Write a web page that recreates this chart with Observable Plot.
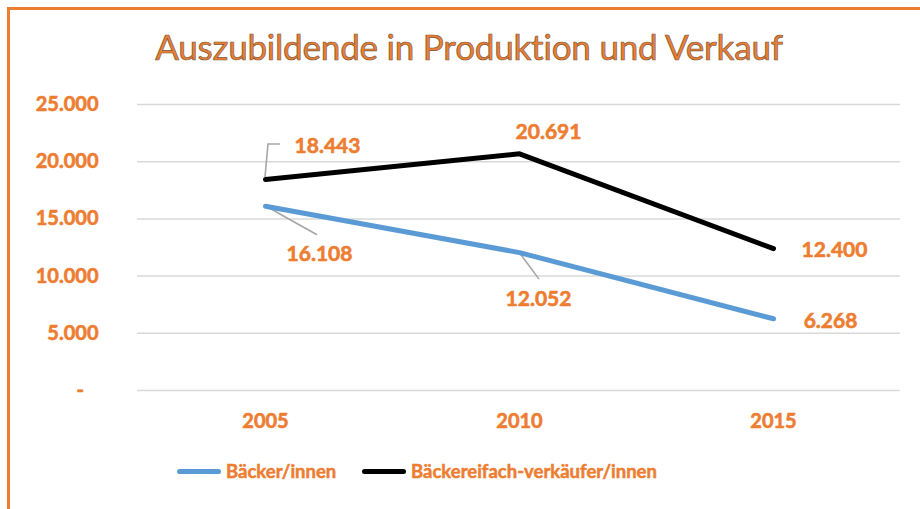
<!DOCTYPE html>
<html><head><meta charset="utf-8">
<script src="https://cdn.jsdelivr.net/npm/d3@7"></script>
<script src="https://cdn.jsdelivr.net/npm/@observablehq/plot@0.6"></script>
<style>
html,body{margin:0;padding:0;background:#fff;}
#wrap{position:relative;width:920px;height:509px;overflow:hidden;font-family:Lato,"Open Sans",sans-serif;}
#frame{position:absolute;left:7px;top:7px;width:940px;height:540px;border-top:3px solid #ED7D31;border-left:3px solid #ED7D31;}
#title{position:absolute;left:0;top:25px;width:938px;text-align:center;font-size:35px;color:#ED7D31;-webkit-text-stroke:0.7px #7a5a40;letter-spacing:-0.2px;}
#chart{position:absolute;left:0;top:80px;}
.leg{position:absolute;top:460px;display:flex;align-items:center;font-size:18.5px;font-weight:bold;color:#ED7D31;-webkit-text-stroke:0.5px #ED7D31;white-space:nowrap;}
.sw{width:44px;height:5px;border-radius:3px;margin-right:5px;flex-shrink:0;}
svg text{stroke:#ED7D31;stroke-width:0.6px;}
</style></head>
<body><div id="wrap"><div id="frame"></div><div id="title">Auszubildende in Produktion und Verkauf</div><div id="chart"></div><div id="legend"></div></div>
<script>
const years = ["2005","2010","2015"];
const seriesNames = ["Bäcker/innen","Bäckereifach-verkäufer/innen"];
const baecker = [16108, 12052, 6268];
const verkaeufer = [18443, 20691, 12400];
const yTicks = [0, 5000, 10000, 15000, 20000, 25000];
const colors = ["#5B9BD5", "#000000"];
// label pixel offsets (style)
const labelOffsets = [
  [[54,48],[19,47],[57,2]],
  [[62,-33],[29,-22],[61,2]]
];
// leader polylines relative to point (style)
const leaders = [
  [[[2,1],[52,29]], [[0,0],[20,27]], null],
  [[[0,-2],[3,-35],[15,-35]], null, null]
];

const fmt = n => n === 0 ? "-\u00a0\u00a0\u00a0" : d3.format(",")(n).replace(/,/g, ".");
const rows = [];
[baecker, verkaeufer].forEach((vals, s) => vals.forEach((v, i) => rows.push({
  year: years[i], value: v, series: seriesNames[s], s, i,
  dx: labelOffsets[s][i][0], dy: labelOffsets[s][i][1]
})));

const chart = Plot.plot({
  width: 920, height: 355,
  marginTop: 24, marginBottom: 45, marginLeft: 137, marginRight: 20,
  style: {fontFamily: "Lato, 'Open Sans', sans-serif", fontSize: "20px", fontWeight: "bold", color: "#ED7D31", background: "transparent"},
  x: {type: "point", domain: years, padding: 0.5, tickSize: 0, tickPadding: 23, label: null},
  y: {domain: [0, 25000], ticks: yTicks, tickSize: 0, tickPadding: 39, tickFormat: fmt, label: null},
  color: {domain: seriesNames, range: colors},
  marks: [
    Plot.gridY(yTicks, {stroke: "#d9d9d9", strokeOpacity: 1, strokeWidth: 1.5}),
    Plot.line(rows, {x: "year", y: "value", z: "series", stroke: "series", strokeWidth: 5, strokeLinecap: "round", strokeLinejoin: "round"}),
    ...rows.map(r => Plot.text([r], {x: "year", y: "value", text: d => fmt(d.value), dx: r.dx, dy: r.dy, fill: "#ED7D31", fontSize: 21, fontWeight: "bold"}))
  ]
});
document.getElementById("chart").appendChild(chart);

// leader lines through the plot's own scales
const sx = chart.scale("x"), sy = chart.scale("y");
const svg = d3.select(chart);
const g = svg.insert("g", "g[aria-label='line']").attr("fill", "none").attr("stroke", "#a6a6a6").attr("stroke-width", 1.6);
rows.forEach(r => {
  const pts = leaders[r.s][r.i];
  if (!pts) return;
  const px = sx.apply(r.year), py = sy.apply(r.value);
  g.append("path").attr("d", d3.line()(pts.map(([a, b]) => [px + a, py + b])));
});

// legend
const leg = document.getElementById("legend");
const legLeft = [177, 362];
seriesNames.forEach((n, k) => {
  const d = document.createElement("div");
  d.className = "leg"; d.style.left = legLeft[k] + "px";
  d.innerHTML = `<div class="sw" style="background:${colors[k]}"></div><span>${n}</span>`;
  leg.appendChild(d);
});
</script></body></html>
